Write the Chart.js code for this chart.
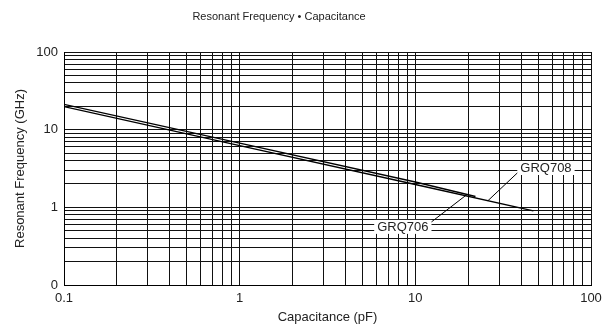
<!DOCTYPE html>
<html>
<head>
<meta charset="utf-8">
<script src="https://cdn.jsdelivr.net/npm/chart.js@4"></script>
<style>
  body { margin: 0; background: #fff; }
  canvas { display: block; }
</style>
</head>
<body>
<canvas id="freqChart" width="613" height="335"></canvas>
<script>
// Data (log-log)
const grq706Cap = [0.1, 1, 10, 22]
const grq706Freq = [21.2, 6.7, 2.12, 1.38]
const grq708Cap = [0.1, 1, 10, 47]
const grq708Freq = [19.8, 6.22, 1.97, 0.9]

const xTickValues = [0.1, 1, 10, 100]
const xTickLabels = ["0.1", "1", "10", "100"]
const yTickValues = [0.1, 1, 10, 100]
const yTickLabels = ["0", "1", "10", "100"]

const FONT = "'Liberation Sans', Arial, Helvetica, sans-serif"
const TEXT = "#222"

// 1..9 per decade, for the grid
function gridValues(min, max) {
  const out = []
  for (let d = Math.round(Math.log10(min)); d < Math.round(Math.log10(max)); d++) {
    for (let k = 1; k <= 9; k++) out.push(Number((k * Math.pow(10, d)).toPrecision(6)))
  }
  out.push(max)
  return out
}

function labelFor(values, labels, v) {
  const i = values.findIndex((t) => Math.abs(t - v) < t * 1e-6)
  return i >= 0 ? labels[i] : ""
}

// log interpolation along a curve
function freqAt(caps, freqs, c) {
  for (let i = 0; i < caps.length - 1; i++) {
    if (c >= caps[i] && c <= caps[i + 1]) {
      const t = (Math.log10(c) - Math.log10(caps[i])) / (Math.log10(caps[i + 1]) - Math.log10(caps[i]))
      return Math.pow(10, Math.log10(freqs[i]) + t * (Math.log10(freqs[i + 1]) - Math.log10(freqs[i])))
    }
  }
  return freqs[freqs.length - 1]
}

// curve labels with leader lines
const callouts = [
  { text: "GRQ708", at: [55.4, 3.21], target: 25.9, caps: grq708Cap, freqs: grq708Freq, corner: "bottomLeft" },
  { text: "GRQ706", at: [8.49, 0.56], target: 19.7, caps: grq706Cap, freqs: grq706Freq, corner: "topRight" },
]

const calloutPlugin = {
  id: "callouts",
  afterDatasetsDraw(chart) {
    const { ctx, scales } = chart
    ctx.save()
    ctx.font = "13px " + FONT
    ctx.textAlign = "center"
    ctx.textBaseline = "middle"
    callouts.forEach((c) => {
      const cx = scales.x.getPixelForValue(c.at[0])
      const cy = scales.y.getPixelForValue(c.at[1])
      const w = ctx.measureText(c.text).width + 6
      const h = 14
      const tx = scales.x.getPixelForValue(c.target)
      const ty = scales.y.getPixelForValue(freqAt(c.caps, c.freqs, c.target))
      const sx = c.corner === "bottomLeft" ? cx - w / 2 : cx + w / 2
      const sy = c.corner === "bottomLeft" ? cy + h / 2 - 2 : cy - h / 2 + 2
      ctx.fillStyle = "#fff"
      ctx.fillRect(cx - w / 2, cy - h / 2, w, h)
      ctx.strokeStyle = "#000"
      ctx.lineWidth = 1
      ctx.beginPath()
      ctx.moveTo(sx, sy)
      ctx.lineTo(tx, ty)
      ctx.stroke()
      ctx.fillStyle = TEXT
      ctx.fillText(c.text, cx, cy + 0.5)
    })
    ctx.restore()
  },
}

const titlePlugin = {
  id: "plainTitle",
  afterDraw(chart) {
    const ctx = chart.ctx
    ctx.save()
    ctx.font = "11px " + FONT
    ctx.fillStyle = TEXT
    ctx.textAlign = "center"
    ctx.textBaseline = "middle"
    ctx.fillText("Resonant Frequency \u2022 Capacitance", 279, 17)
    ctx.restore()
  },
}

const ctx = document.getElementById("freqChart").getContext("2d")

new Chart(ctx, {
  type: "line",
  data: {
    datasets: [
      {
        label: "GRQ706",
        data: grq706Cap.map((c, i) => ({ x: c, y: grq706Freq[i] })),
        borderColor: "#000",
        borderWidth: 1.4,
        pointRadius: 0,
        tension: 0,
      },
      {
        label: "GRQ708",
        data: grq708Cap.map((c, i) => ({ x: c, y: grq708Freq[i] })),
        borderColor: "#000",
        borderWidth: 1.4,
        pointRadius: 0,
        tension: 0,
      },
    ],
  },
  options: {
    responsive: false,
    animation: false,
    layout: { padding: { left: 0, right: 22, top: 52, bottom: 0 } },
    plugins: {
      legend: { display: false },
      tooltip: { enabled: false },
    },
    scales: {
      x: {
        type: "logarithmic",
        min: 0.1,
        max: 100,
        afterBuildTicks: (scale) => {
          scale.ticks = gridValues(0.1, 100).map((v) => ({ value: v }))
        },
        afterFit: (scale) => {
          scale.height = 50
        },
        ticks: {
          autoSkip: false,
          maxRotation: 0,
          padding: 6,
          color: TEXT,
          font: { family: FONT, size: 13 },
          callback: (v) => labelFor(xTickValues, xTickLabels, v),
        },
        grid: { color: "#111", lineWidth: 1, drawTicks: false },
        border: { color: "#000", width: 1 },
        title: {
          display: true,
          text: "Capacitance (pF)",
          color: TEXT,
          font: { family: FONT, size: 13 },
          padding: { top: 0, bottom: 10 },
        },
      },
      y: {
        type: "logarithmic",
        min: 0.1,
        max: 100,
        afterBuildTicks: (scale) => {
          scale.ticks = gridValues(0.1, 100).map((v) => ({ value: v }))
        },
        afterFit: (scale) => {
          scale.width = 64
        },
        ticks: {
          autoSkip: false,
          padding: 6,
          color: TEXT,
          font: { family: FONT, size: 13 },
          callback: (v) => labelFor(yTickValues, yTickLabels, v),
        },
        grid: { color: "#111", lineWidth: 1, drawTicks: false },
        border: { color: "#000", width: 1 },
        title: {
          display: true,
          text: "Resonant Frequency (GHz)",
          color: TEXT,
          font: { family: FONT, size: 13 },
          padding: { top: 13, bottom: 0 },
        },
      },
    },
  },
  plugins: [calloutPlugin, titlePlugin],
})
</script>
</body>
</html>
